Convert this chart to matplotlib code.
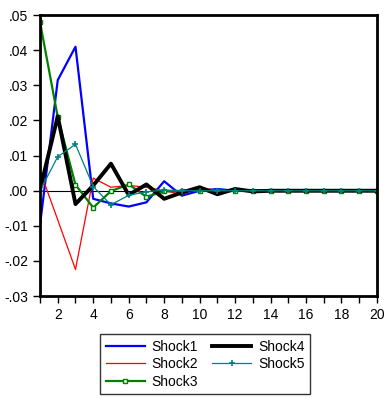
import numpy as np
import matplotlib.pyplot as plt
from matplotlib.ticker import MultipleLocator, FuncFormatter

plt.rcParams['font.family'] = ['Liberation Sans', 'DejaVu Sans']

# Impulse responses, periods 1..20
periods = np.arange(1, 21)
shock1 = [-0.0097, 0.0315, 0.0410, -0.0023, -0.0036, -0.0045, -0.0033, 0.0027, -0.0014, 0.0000,
          0.0005, 0.0000, 0.0002, 0.0000, 0.0000, 0.0000, 0.0000, 0.0000, 0.0000, 0.0000]
shock2 = [0.0057, -0.0083, -0.0224, 0.0036, 0.0010, 0.0015, 0.0010, 0.0000, -0.0010, 0.0010,
          0.0000, 0.0000, 0.0000, 0.0000, 0.0000, 0.0000, 0.0000, 0.0000, 0.0000, 0.0000]
shock3 = [0.0480, 0.0210, 0.0017, -0.0048, -0.0001, 0.0018, -0.0017, -0.0002, 0.0000, 0.0000,
          0.0000, 0.0000, 0.0000, 0.0000, 0.0000, 0.0000, 0.0000, 0.0000, 0.0000, 0.0000]
shock4 = [0.0003, 0.0212, -0.0038, 0.0015, 0.0077, -0.0012, 0.0018, -0.0023, -0.0005, 0.0010,
          -0.0010, 0.0005, -0.0002, 0.0000, 0.0000, 0.0000, 0.0000, 0.0000, 0.0000, 0.0000]
shock5 = [0.0000, 0.0097, 0.0132, 0.0012, -0.0040, -0.0013, -0.0003, 0.0002, 0.0000, 0.0000,
          0.0000, 0.0000, 0.0000, 0.0000, 0.0000, 0.0000, 0.0000, 0.0000, 0.0000, 0.0000]

fig = plt.figure(figsize=(3.87, 3.98), dpi=100)
ax = fig.add_axes([0.1034, 0.256, 0.8706, 0.706])

ax.axhline(0, color="black", lw=0.8, zorder=1)
ax.plot(periods, shock1, color="#0000ff", lw=1.6, label="Shock1")
ax.plot(periods, shock2, color="#ff0000", lw=0.9, label="Shock2")
ax.plot(periods, shock3, color="#008000", lw=1.6, marker="s", ms=3.5,
        mfc="white", mec="#008000", mew=1.0, label="Shock3")
ax.plot(periods, shock4, color="black", lw=2.8, label="Shock4")
ax.plot(periods, shock5, color="#008080", lw=0.9, marker="+", ms=5, mew=1.2, label="Shock5")

ax.set_xlim(1, 20)
ax.set_ylim(-0.03, 0.05)
ax.xaxis.set_minor_locator(MultipleLocator(1))
ax.set_xticks(np.arange(2, 21, 2))
ax.yaxis.set_major_locator(MultipleLocator(0.01))

def yfmt(v, pos):
    s = f"{v:.2f}"
    return s.replace("0.", ".")
ax.yaxis.set_major_formatter(FuncFormatter(yfmt))

ax.tick_params(axis="both", direction="out", labelsize=10, width=1, length=5)
ax.tick_params(axis="x", which="minor", direction="out", length=5, width=1)
for s in ax.spines.values():
    s.set_linewidth(2)

fig.legend(loc="upper center", bbox_to_anchor=(0.53, 0.178), ncol=2, fontsize=10,
           frameon=True, fancybox=False, edgecolor="black", handlelength=2.8,
           columnspacing=1.0, handletextpad=0.5, borderpad=0.4, labelspacing=0.25)

fig.savefig("out.png", dpi=100)
